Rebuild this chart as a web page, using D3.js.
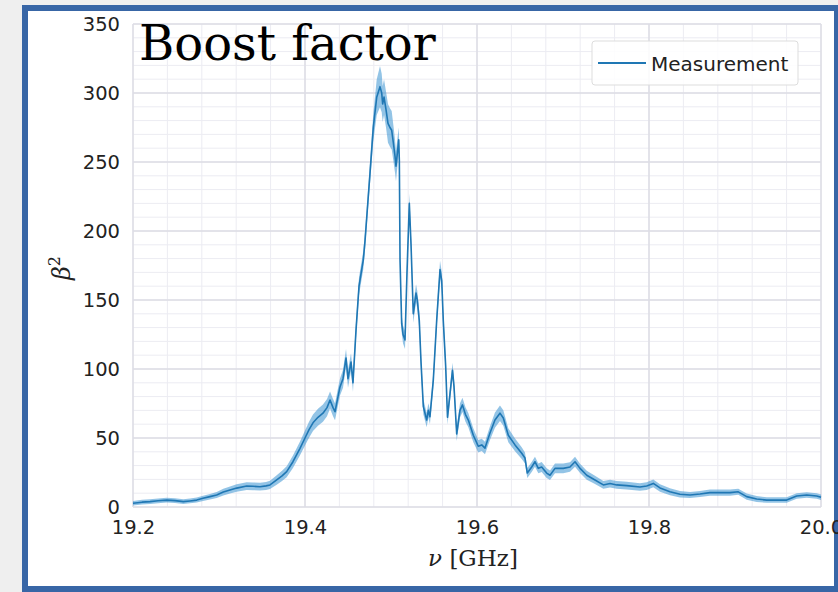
<!DOCTYPE html>
<html>
<head>
<meta charset="utf-8">
<script src="https://cdn.jsdelivr.net/npm/d3@7"></script>
<style>
  html, body { margin: 0; padding: 0; background: #efefef; }
  svg { display: block; }
</style>
</head>
<body>
<svg id="chart" width="838" height="592"></svg>
<script>
// ---- data ----
const freq = [19.2000,19.2105,19.2198,19.2291,19.2392,19.2488,19.2585,19.2663,19.2741,19.2814,19.2895,19.2973,19.3050,19.3128,19.3206,19.3322,19.3395,19.3477,19.3547,19.3593,19.3671,19.3733,19.3787,19.3860,19.3942,19.4000,19.4047,19.4093,19.4151,19.4209,19.4256,19.4291,19.4326,19.4349,19.4384,19.4407,19.4442,19.4477,19.4500,19.4535,19.4558,19.4593,19.4628,19.4678,19.4698,19.4724,19.4756,19.4794,19.4834,19.4872,19.4892,19.4903,19.4919,19.4942,19.4965,19.4988,19.5008,19.5027,19.5047,19.5058,19.5078,19.5090,19.5097,19.5105,19.5124,19.5140,19.5163,19.5186,19.5213,19.5233,19.5259,19.5291,19.5306,19.5329,19.5349,19.5376,19.5415,19.5434,19.5453,19.5492,19.5531,19.5570,19.5590,19.5608,19.5636,19.5657,19.5686,19.5715,19.5733,19.5764,19.5802,19.5831,19.5866,19.5899,19.5957,19.6015,19.6055,19.6093,19.6151,19.6209,19.6267,19.6306,19.6364,19.6442,19.6520,19.6558,19.6585,19.6636,19.6674,19.6713,19.6752,19.6810,19.6849,19.6907,19.7003,19.7081,19.7140,19.7198,19.7276,19.7372,19.7469,19.7547,19.7624,19.7741,19.7895,19.7973,19.8050,19.8128,19.8244,19.8360,19.8477,19.8593,19.8709,19.8826,19.8942,19.9038,19.9136,19.9252,19.9369,19.9484,19.9601,19.9717,19.9834,19.9950,20.0000];
const beta2 = [2.7,3.5,3.9,4.5,5.0,4.6,3.9,4.4,5.0,6.3,7.5,8.7,10.8,12.3,13.7,15.2,15.0,14.7,15.3,16.0,19.6,22.5,25.6,32.8,42.5,50,56,61,65,68,72,77.5,72,69,80,87,93,108,93,105,90,128,160,179,193,215,242,275,297,304.6,300,292,297,288,278,275,273,264,254,247,259,266,251,179,133,125,121,170,220,190,140,155,150,135,105,72.7,63,70,65.4,92,135,172,164,135,101.7,65,82,99,87,53,70,74,67,63,52,44,45,42.7,53.6,63,68,64.5,52,45,39,35.5,24.6,29,32.8,28,29,24.6,23,28,28,29,32.8,28,23,19.6,16,17,16,15.5,14.5,15.2,17.1,13.8,11,9.2,8.7,9.4,10.4,10.4,10.4,11,7.5,5.8,5,5,5,8,8.7,8,7];
const beta2Err = [1.7,1.7,1.7,1.7,1.7,1.7,1.7,1.7,1.8,1.9,2.0,2.2,2.4,2.6,2.7,2.8,2.8,2.8,2.9,3.0,3.4,3.7,4.0,4.5,5.0,5.5,5.8,6.0,6.2,6.2,6.2,6.2,6.2,6.2,6.2,6.2,6.5,6.5,6.5,6.5,6.5,6.5,6.5,6.5,6.5,6.5,7.5,10,13,15,14,13,13,13,14,14,14,13,12,11,10,9,8,6.5,6.5,6.5,6.5,6.5,7,6.5,6.5,6.5,6.5,6.5,6,5.5,5.2,5.2,5.2,5.5,5.8,6.5,6.5,6,5.8,5.2,5.2,5.5,5.5,5.2,5.2,5.2,5.2,5.2,5,4.5,4.5,4.5,5,5.5,5.6,5.6,5,4.6,4.3,4.0,3.6,3.6,3.6,3.6,3.6,3.5,3.5,3.5,3.5,3.5,3.6,3.4,3.2,3.0,2.8,2.8,2.8,2.8,2.8,2.8,2.8,2.7,2.5,2.4,2.2,2.2,2.2,2.2,2.2,2.2,2.2,2.1,2.0,2.0,2.0,2.0,2.0,2.0,2.0,2.0];
const xTicks = [19.2, 19.4, 19.6, 19.8, 20.0];
const xTickLabels = ["19.2", "19.4", "19.6", "19.8", "20.0"];
const yTicks = [0, 50, 100, 150, 200, 250, 300, 350];
const yTickLabels = ["0", "50", "100", "150", "200", "250", "300", "350"];
const titleText = "Boost factor";
const legendLabel = "Measurement";

// ---- drawing ----
const svg = d3.select("#chart");

// framed white panel
svg.append("rect")
  .attr("x", 25).attr("y", 8).attr("width", 812).attr("height", 581)
  .attr("fill", "#ffffff").attr("stroke", "#3866a6").attr("stroke-width", 6);

const plot = { left: 133, right: 821, top: 24, bottom: 507 };
const x = d3.scaleLinear().domain([19.2, 20.0]).range([plot.left, plot.right]);
const y = d3.scaleLinear().domain([0, 350]).range([plot.bottom, plot.top]);

const g = svg.append("g");

// minor grid
const xMinor = d3.range(0, 21).map(i => 19.2 + i * 0.04);
const yMinor = d3.range(0, 36).map(i => i * 10);
g.append("g").selectAll("line").data(xMinor).join("line")
  .attr("x1", d => x(d)).attr("x2", d => x(d))
  .attr("y1", plot.top).attr("y2", plot.bottom)
  .attr("stroke", "#ececf2").attr("stroke-width", 1);
g.append("g").selectAll("line").data(yMinor).join("line")
  .attr("x1", plot.left).attr("x2", plot.right)
  .attr("y1", d => y(d)).attr("y2", d => y(d))
  .attr("stroke", "#ececf2").attr("stroke-width", 1);
// major grid
g.append("g").selectAll("line").data(xTicks).join("line")
  .attr("x1", d => x(d)).attr("x2", d => x(d))
  .attr("y1", plot.top).attr("y2", plot.bottom)
  .attr("stroke", "#dcdce4").attr("stroke-width", 1.5);
g.append("g").selectAll("line").data(yTicks).join("line")
  .attr("x1", plot.left).attr("x2", plot.right)
  .attr("y1", d => y(d)).attr("y2", d => y(d))
  .attr("stroke", "#dcdce4").attr("stroke-width", 1.5);

// data
const pts = freq.map((f, i) => ({ f, v: beta2[i], e: beta2Err[i] }));
const area = d3.area().x(d => x(d.f)).y0(d => y(d.v - d.e)).y1(d => y(d.v + d.e));
const line = d3.line().x(d => x(d.f)).y(d => y(d.v));
g.append("path").datum(pts).attr("d", area)
  .attr("fill", "#3a93d2").attr("fill-opacity", 0.55).attr("stroke", "none");
g.append("path").datum(pts).attr("d", line)
  .attr("fill", "none").attr("stroke", "#1f77b4").attr("stroke-width", 1.6)
  .attr("stroke-linejoin", "round");

// axes (text only, no tick marks / spines)
const xAxis = d3.axisBottom(x).tickValues(xTicks).tickFormat((d, i) => xTickLabels[i]).tickSize(0).tickPadding(0);
const xg = svg.append("g").attr("transform", `translate(0,${plot.bottom})`).call(xAxis);
xg.select(".domain").remove();
xg.selectAll("text").attr("font-family", "DejaVu Sans").attr("font-size", 19.5)
  .attr("fill", "#222").attr("dy", null).attr("y", 27);

const yAxis = d3.axisLeft(y).tickValues(yTicks).tickFormat((d, i) => yTickLabels[i]).tickSize(0).tickPadding(13);
const yg = svg.append("g").attr("transform", `translate(${plot.left},0)`).call(yAxis);
yg.select(".domain").remove();
yg.selectAll("text").attr("font-family", "DejaVu Sans").attr("font-size", 19.5)
  .attr("fill", "#222").attr("dy", "0.34em");

// title
svg.append("text").attr("x", 139).attr("y", 60)
  .attr("font-family", "DejaVu Serif").attr("font-size", 48).attr("fill", "#000")
  .text(titleText);

// axis labels
const xl = svg.append("text").attr("x", 473).attr("y", 566).attr("text-anchor", "middle")
  .attr("font-family", "DejaVu Serif").attr("font-size", 23).attr("fill", "#222");
xl.append("tspan").attr("font-style", "italic").text("ν");
xl.append("tspan").text(" [GHz]");

const yl = svg.append("text").attr("transform", "translate(70,268) rotate(-90)")
  .attr("text-anchor", "middle").attr("font-family", "DejaVu Serif").attr("font-size", 24).attr("fill", "#222");
yl.append("tspan").attr("font-style", "italic").text("β");
yl.append("tspan").attr("font-size", 16).attr("dy", -10).text("2");

// legend
const lg = svg.append("g");
lg.append("rect").attr("x", 592).attr("y", 41).attr("width", 206).attr("height", 44).attr("rx", 3)
  .attr("fill", "#ffffff").attr("fill-opacity", 0.85).attr("stroke", "#dddddd").attr("stroke-width", 1);
lg.append("line").attr("x1", 598).attr("x2", 646).attr("y1", 63).attr("y2", 63)
  .attr("stroke", "#1f77b4").attr("stroke-width", 1.8);
lg.append("text").attr("x", 651).attr("y", 70.5).attr("font-family", "DejaVu Sans").attr("font-size", 20)
  .attr("fill", "#222").text(legendLabel);
</script>
</body>
</html>
